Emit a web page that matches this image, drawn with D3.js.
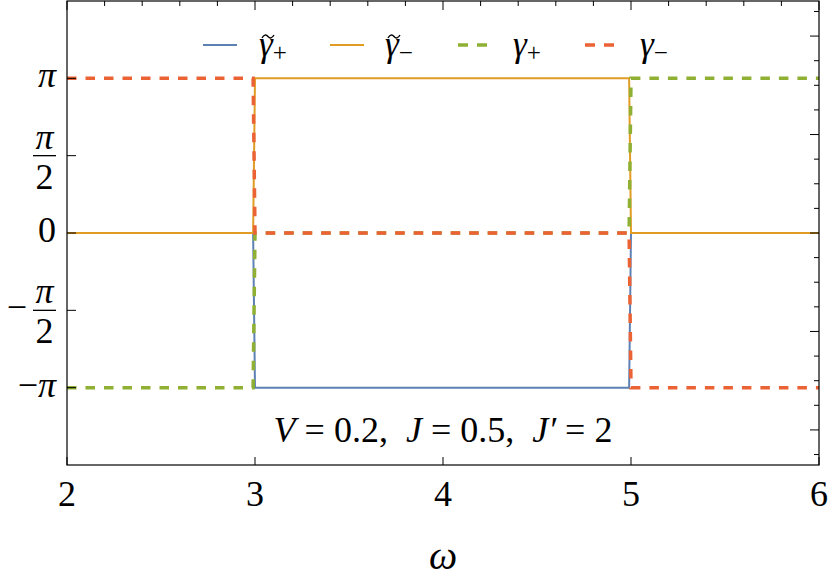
<!DOCTYPE html>
<html>
<head>
<meta charset="utf-8">
<script src="https://cdn.jsdelivr.net/npm/d3@7"></script>
<style>
  @font-face { font-family: "ChartSerif"; font-style: normal;
    src: local("Liberation Serif"), local("LiberationSerif"), local("Liberation Serif Regular"); }
  @font-face { font-family: "ChartSerif"; font-style: italic;
    src: local("Liberation Serif Italic"), local("LiberationSerif-Italic"); }
</style>
</head>
<body style="margin:0">
<svg id="chart" width="830" height="586"></svg>
<script>
// phase of each component vs omega (sampled at the jumps)
var PI = Math.PI;
var omega = [2, 2.99, 3, 4.99, 5, 6];
var gammaTildePlus = [0, 0, -PI, -PI, 0, 0];
var gammaTildeMinus = [0, 0, PI, PI, 0, 0];
var gammaPlus = [-PI, -PI, 0, 0, PI, PI];
var gammaMinus = [PI, PI, 0, 0, -PI, -PI];

var xTicks = [2, 3, 4, 5, 6];
var yTicks = [-PI, -PI / 2, 0, PI / 2, PI];
var yTickLabels = ["−π", "−π/2", "0", "π/2", "π"];

var series = [
  {name: "tp", vals: gammaTildePlus, color: "#5E81B5", dash: null, w: 2},
  {name: "tm", vals: gammaTildeMinus, color: "#E19C24", dash: null, w: 2},
  {name: "p", vals: gammaPlus, color: "#8FB032", dash: "9.5,9", w: 3.5},
  {name: "m", vals: gammaMinus, color: "#EB6235", dash: "9.5,9", w: 3.5}
];

var FONT = "'Liberation Serif', ChartSerif, 'Times New Roman', 'DejaVu Serif'";
var svg = d3.select("#chart");
var x = d3.scaleLinear().domain([2, 6]).range([67, 819]);
var y = d3.scaleLinear().domain([-1.5 * PI, 1.5 * PI]).range([465, 1]);

function label(px, py, size, anchor) {
  return svg.append("text")
    .style("font-family", FONT)
    .attr("x", px).attr("y", py)
    .attr("font-size", size)
    .attr("text-anchor", anchor || "start");
}

var line = d3.line()
  .x(function(d) { return x(d[0]); })
  .y(function(d) { return y(d[1]); });

svg.selectAll("path.series").data(series).enter()
  .append("path")
    .attr("class", "series")
    .attr("fill", "none")
    .attr("stroke", function(s) { return s.color; })
    .attr("stroke-width", function(s) { return s.w; })
    .attr("stroke-dasharray", function(s) { return s.dash; })
    .attr("d", function(s) { return line(omega.map(function(o, i) { return [o, s.vals[i]]; })); });

// frame
svg.append("rect")
  .attr("x", x(2)).attr("y", y(1.5 * PI))
  .attr("width", x(6) - x(2)).attr("height", y(-1.5 * PI) - y(1.5 * PI))
  .attr("fill", "none").attr("stroke", "#000").attr("stroke-width", 1.2);

var ticks = svg.append("g").attr("stroke", "#000").attr("stroke-width", 1);
// bottom major ticks
ticks.selectAll("line.b").data(xTicks).enter().append("line")
  .attr("x1", x).attr("x2", x)
  .attr("y1", y(-1.5 * PI)).attr("y2", y(-1.5 * PI) - 8);
// top ticks every 0.2
ticks.selectAll("line.t").data(d3.range(0, 21)).enter().append("line")
  .attr("x1", function(i) { return x(2 + i * 0.2); })
  .attr("x2", function(i) { return x(2 + i * 0.2); })
  .attr("y1", y(1.5 * PI))
  .attr("y2", function(i) { return y(1.5 * PI) + (i % 5 === 0 ? 9 : 5); });
// left ticks
ticks.selectAll("line.l").data(yTicks).enter().append("line")
  .attr("x1", x(2)).attr("x2", x(2) + 9)
  .attr("y1", y).attr("y2", y);
// right ticks every 0.5
ticks.selectAll("line.r").data(d3.range(-9, 10)).enter().append("line")
  .attr("x1", x(6))
  .attr("x2", function(i) { return x(6) - (i % 4 === 0 ? 9 : 5); })
  .attr("y1", function(i) { return y(i * 0.5); })
  .attr("y2", function(i) { return y(i * 0.5); });

// bottom labels
svg.selectAll("text.xl").data(xTicks).enter().append("text")
  .attr("class", "xl")
  .style("font-family", FONT)
  .attr("x", x).attr("y", 506)
  .attr("text-anchor", "middle")
  .attr("font-size", 36)
  .text(function(d) { return String(d); });

// left labels
yTicks.forEach(function(v, i) {
  var lab = yTickLabels[i];
  var yy = y(v);
  if (lab.indexOf("/2") < 0) {
    var t = label(56, yy + 9, 36, "end");
    if (lab === "0") t.text("0");
    else {
      if (lab[0] === "−") t.append("tspan").text("−");
      t.append("tspan").attr("font-style", "italic").text("π");
    }
  } else {
    svg.append("line").attr("x1", 33).attr("x2", 56)
      .attr("y1", yy).attr("y2", yy).attr("stroke", "#000").attr("stroke-width", 1.3);
    label(44.5, yy - 7, 36, "middle").attr("font-style", "italic").text("π");
    label(44.5, yy + 33, 36, "middle").text("2");
    if (lab[0] === "−") label(17, yy + 9, 36, "middle").text("−");
  }
});

// axis title
label(443, 569, 40, "middle").attr("font-style", "italic").text("ω");

// parameters
var par = label(443, 442, 36, "middle").style("white-space", "pre");
par.append("tspan").attr("font-style", "italic").text("V");
par.append("tspan").text(" = 0.2,  ");
par.append("tspan").attr("font-style", "italic").text("J");
par.append("tspan").text(" = 0.5,  ");
par.append("tspan").attr("font-style", "italic").text("J′");
par.append("tspan").text(" = 2");

// legend
var legendItems = [
  {s: series[0], x0: 203, tx: 259, sub: "+", tilde: true},
  {s: series[1], x0: 330, tx: 385, sub: "−", tilde: true},
  {s: series[2], x0: 458, tx: 513, sub: "+", tilde: false},
  {s: series[3], x0: 585, tx: 640, sub: "−", tilde: false}
];
legendItems.forEach(function(it) {
  svg.append("line")
    .attr("x1", it.x0).attr("x2", it.x0 + (it.s.dash ? 29 : 34))
    .attr("y1", 45).attr("y2", 45)
    .attr("stroke", it.s.color)
    .attr("stroke-width", it.s.w)
    .attr("stroke-dasharray", it.s.dash ? "10,9" : null);
  var t = label(it.tx, 56, 35);
  t.append("tspan").attr("font-style", "italic").text("γ");
  t.append("tspan").attr("font-size", 25).attr("dy", 5).text(it.sub);
  if (it.tilde) {
    var tx = it.tx + 3, ty = 36;
    svg.append("path")
      .attr("d", "M" + tx + "," + (ty + 2) + " q3,-5 6,-1.5 t6,-1.5")
      .attr("fill", "none").attr("stroke", "#000").attr("stroke-width", 1.4);
  }
});
</script>
</body>
</html>
